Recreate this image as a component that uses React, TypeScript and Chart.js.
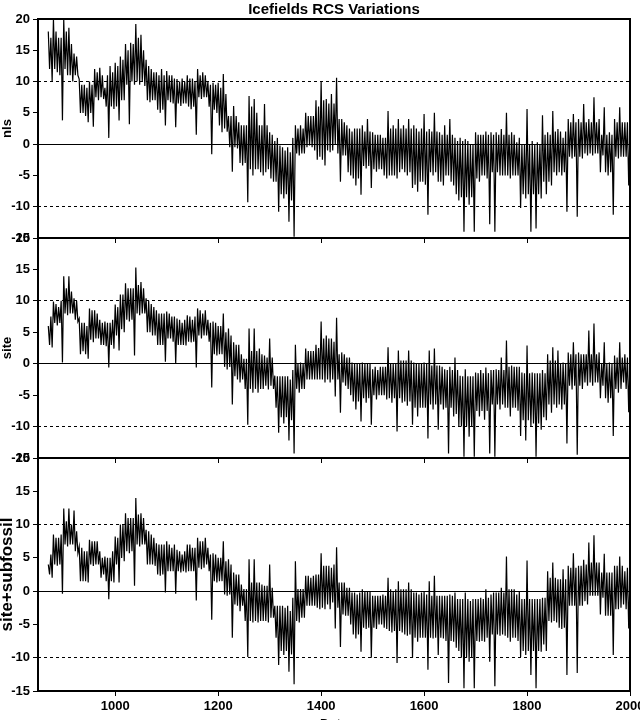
import { useEffect, useRef } from "react";
import { Chart, registerables } from "chart.js";

Chart.register(...registerables);

const CHART_TITLE = "Icefields RCS Variations";
const X_TITLE = "Date";
const FIRST_YEAR = 870;
const YEAR_STEP = 2.5;
const X_MIN = 850;
const X_MAX = 2000;
const X_TICKS = [1000, 1200, 1400, 1600, 1800, 2000];
const Y_MIN = -15;
const Y_MAX = 20;
const Y_TICKS = [-15, -10, -5, 0, 5, 10, 15, 20];
const PANEL_NAMES = ["nls", "site", "site+subfossil"];

// values every 2.5 years from 870 (peak / trough readings of the dense annual trace)
const NLS = [
  18, 12, 17, 10, 20, 12, 18, 11.5, 17, 11, 17, 3.8, 20, 12, 18, 11, 18.6, 11, 16, 10,
  14.5, 11, 14, 11, 10.4, 5, 9.5, 5, 9.5, 4.5, 9, 3.5, 10, 5, 9.5, 2.8, 12, 7.5, 11.5, 7,
  12.2, 7.5, 11, 7.2, 9, 6, 11, 1, 12.5, 6, 11.5, 5.6, 13, 6, 12.5, 3.8, 14, 7, 13.5, 7,
  16, 9.5, 15, 3.2, 16.2, 10, 16, 9.5, 19.2, 10, 17, 9.5, 17.5, 10, 15, 9.3, 13.5, 7, 12.5, 6.7,
  12, 7, 11.5, 7, 11.5, 5.5, 11, 5, 12, 5.5, 11, 3, 11.7, 7, 11, 6.7, 11, 6.5, 10.5, 2.7,
  10.4, 6.5, 10, 6.1, 10.5, 6.5, 10, 6.5, 11, 6, 10.5, 5.6, 10.5, 6, 10, 1.5, 12, 7.5, 11, 7.2,
  11.5, 7.5, 11, 7.5, 10, 6, 9.5, -1.6, 9.8, 5.5, 9.5, 5, 9.8, 3, 9, 1.9, 11.2, 2.5, 8, 2,
  4.5, -0.5, 4.5, -4.4, 6.1, -0.5, 4.5, -0.7, 3.5, -3, 3, -3.4, 3, -3, 3, -9.3, 7.7, -4, 6, -5,
  7.2, -4, 5, -4, 3, -4.5, 3, -5, 6.4, -4.5, 3, -4, 1.9, -5.5, 1.5, -6, 0.5, -6, 1, -10.8,
  -0.2, -8, -0.5, -8.7, -1, -8, -0.5, -12.4, -1.3, -9, 1, -14.8, 3, -1.5, 2.5, -1.8, 3, -1.5, 2.5, -1.5,
  5, -0.5, 4.5, -0.2, 4.5, -0.5, 4.5, -1, 7, -2.5, 6, -2, 10, -2.5, 7, -3.4, 7.2, -1, 6.5, -1.3,
  8, -1, 6.5, 0, 10.6, -1.5, 4, -6, 4, -1.8, 3.5, -1.8, 3, -4.5, 2.5, -5, 2, -5.5, 2.5, -6.6,
  2.5, -5.5, 2.5, -8.1, 3, -3.5, 2, -3.9, 4, -3.5, 2, -7, 1.9, -4, 1.5, -4.4, 1.5, -4, 1.5, -4,
  1, -5, 1, -5.5, 5.3, -5, 2.5, -5, 3, -5, 2.5, -5.5, 4, -4.5, 2.5, -4, 3, -4.5, 2.5, -5,
  4, -4.5, 2.5, -7, 3, -6.5, 2.5, -7.6, 2, -6, 2.5, -6, 4.8, -6.5, 2, -11.3, 2.4, -4.5, 2, -5,
  5, -4.5, 2, -6, 1.9, -6, 1.5, -6.6, 3, -5, 1.5, -5, 4, -6, 1.5, -6.6, 1, -8, 0.5, -9,
  1, -8.5, 0.5, -14, 0.8, -8.5, 0.5, -9.7, 0, -8.5, 0, -14, 1.9, -5.5, 1.5, -6, 1.5, -5, 1.5, -5,
  2, -5.5, 1.5, -12.8, 1.9, -4.5, 1.5, -14, 1.9, -4.5, 1.5, -5, 2.4, -5, 1.5, -5, 5, -5, 1.5, -5.5,
  1.9, -5, 1.5, -5, 0.3, -5, 1, -10.2, 0, -8, 0, -8.7, 5.6, -8, 0, -14, 0.5, -8, 0, -13.5,
  0.3, -8, 0, -8.7, 4.6, -6, 1.5, -8, 1.9, -6, 1.5, -6.6, 5.3, -4.5, 2, -5, 2.4, -4.5, 2, -5,
  1, -4.5, 2, -10.8, 4, -2, 3.5, -2.3, 4.8, -2, 3.5, -11.6, 4, -2, 3.5, -2.3, 6.4, -1.5, 3.5, -1.8,
  4, -1.5, 3.5, -1.8, 7.5, -1.5, 3.5, -1.5, 4, -4.5, 1.5, -1.8, 5.9, -4.5, 1.5, -5, 1.9, -4.5, 1.5, -11.3,
  4, -2, 3.5, -2.3, 5.9, -2, 3.5, -2, 3.5, -2, 3.5, -6.6, 2,
];

const SITE = [
  6, 3, 7.5, 2.6, 9.9, 6.5, 9.5, 6.1, 9, 6.5, 10, 0.2, 13.9, 8, 12, 7.7, 13.9, 8, 11.5, 8,
  10.4, 7, 10, 6.7, 7.2, 1.5, 6.5, 2, 6.5, 1.5, 6, 0.8, 8.8, 3.8, 8.5, 3.4, 8.5, 4, 8, 4,
  7, 3, 6.5, 3, 6.7, 2.8, 6.5, -0.6, 6.5, 3, 7, 2.4, 9.4, 4.5, 9, 2.1, 11, 5.5, 11, 5,
  12.8, 7, 12, 6.7, 12, 7, 12, 1.3, 15.3, 8, 12.5, 7.7, 13, 8, 12, 8, 10.4, 5, 10, 5,
  9.5, 4.5, 9, 4.5, 8.5, 3, 8, 3, 8, 3, 8, 0.3, 8.3, 4, 8, 4, 7.5, 3.5, 7.5, 0,
  7.2, 3, 7, 3, 6.5, 3, 7, 2.9, 7.7, 3.5, 7.5, 3.4, 7, 3.5, 7.5, -0.6, 8.8, 4.5, 8.5, 4,
  8, 4.5, 8.5, 4.5, 7, 3.5, 6.5, -3.8, 6.7, 1.5, 6.5, 1.3, 6, 1.5, 6, 1.5, 8, -0.5, 5, -0.9,
  5.6, -0.5, 4.5, -6.5, 3.4, -2, 3, -2.5, 3, -3, 1.5, -2.5, 0.8, -4, 0.8, -9.7, 5.6, -4, 2, -4.6,
  5.6, -4, 2, -4.6, 2.4, -4, 1.5, -4, 1.3, -3.5, 1, -4.1, 4, -3.5, 1, -4, -1.9, -7, -2, -11,
  -2, -8.5, -2, -9.5, -2, -8.5, -2, -12.2, -2.5, -9, -1, -14.3, 3, -4, 0, -4.6, 0.2, -4, 0, -4,
  2.4, -2.5, 2, -2.5, 2, -2.5, 2, -2.5, 3, -2.5, 2.5, -2.5, 6.7, -2.5, 4, -3, 4.5, -2.5, 4, -3,
  4, -2.5, 3.5, -5.2, 7.3, -2.5, 1.5, -7.8, 1.8, -3, 1.5, -3.5, 1, -4, 1, -5, 0.2, -6, 0, -7.3,
  0, -6, 0, -9.2, 0.2, -5.5, 0, -6.2, 0, -5.5, 0, -9.7, -0.9, -5, -0.5, -5.7, -1, -5, -0.5, -5,
  -0.5, -5, -0.5, -5.7, 2.6, -5.5, 0, -6.2, 0, -5.5, 0, -10.8, 2.1, -5.5, 0.5, -6.2, 0.5, -6, 0.5, -6.7,
  2.1, -6, 0.5, -9.7, 0.2, -7, 0, -8.4, 0, -7, 0, -7, 0.2, -7, 0, -11.9, 2.1, -6.5, -0.3, -7.3,
  2.4, -6.5, -0.3, -10.5, -0.3, -6.5, -0.5, -7.3, -0.9, -7, -1, -14.3, -0.5, -7, -1, -8.4, 1, -8, -1, -10,
  -1.9, -10, -2, -14.8, -0.9, -10, -2, -11.6, -2, -10, -2, -14.8, -1.4, -7.5, -1.5, -8.4, -1, -7.5, -1.5, -8.9,
  -0.6, -7.5, -1.5, -14.3, -1, -6.5, -1, -14.8, -0.9, -6.5, -1, -7.3, 1, -6.5, -1, -7, 3.7, -7, -0.5, -8.4,
  -0.3, -7, -0.5, -7, -0.5, -7.5, -0.5, -11.5, -1.4, -9, -1.5, -12.2, 2.9, -9, -1.5, -10, -1.4, -9.5, -1.5, -14.8,
  -1.5, -9.5, -1.5, -10.5, -1, -8.5, -1.5, -9, 1.5, -6.5, 0.5, -7.8, 2.6, -6.5, 0.5, -7, 2.1, -6.5, 0, -7.3,
  0.2, -6.5, 0, -12.7, 1.8, -3.5, 1.5, -4.1, 3.4, -3.5, 1.5, -14.5, 1.8, -3.5, 1.5, -4, 1.5, -3, 1.5, -3.5,
  5.3, -3, 1.5, -3.5, 6.4, -3, 1.5, -3, 1.8, -5.5, 0, -3.5, 3.4, -5.5, 0, -6.2, 0.2, -5.5, 0, -11.5,
  1.3, -4, 1, -4.6, 3.4, -4, 1, -3, 1.5, -4, 1, -7.7, 1,
];

const SITE_SUBFOSSIL = [
  4, 2.5, 5.5, 2, 8.5, 4, 8, 3.8, 8, 4, 8.5, -0.4, 12.4, 7, 10.5, 6.7, 12.4, 7, 10, 7,
  12.1, 6, 9, 5.7, 6.7, 1.5, 6.5, 1.5, 6, 1.5, 6, 1.3, 7.7, 4, 7.5, 3.8, 7.5, 4, 7.5, 4,
  6, 2, 5, 2.5, 5.2, 1.5, 5, -1.2, 5, 1.5, 6, 1.3, 8.2, 4, 8, 1.3, 10, 5, 10, 4.5,
  11.7, 6, 11, 5.7, 11, 6, 11, 0.8, 14, 7, 11.5, 6.7, 11.7, 7, 11, 7, 9.2, 4, 9, 4,
  8.5, 4, 8, 3.8, 7.2, 2.5, 7, 2.3, 7, 2.5, 7, -0.2, 7.5, 3, 7, 3, 6.5, 3, 7, -0.4,
  6.2, 3, 6, 2.8, 5.5, 3, 6, 2.8, 7, 3, 7, 3, 6.5, 3, 6.5, -1.4, 8, 3.5, 7.5, 3.3,
  7.5, 3.5, 8, 4, 6.5, 3, 5.5, -4.3, 5.7, 1.5, 5.5, 1.3, 5, 1.5, 5, 1.5, 7.5, -0.5, 4.5, -0.7,
  4.8, -0.5, 4, -7, 2.8, -2, 2.5, -2.2, 2.5, -3, 1, -2.2, 0.3, -4.5, 0.3, -9.9, 4.8, -4.5, 1.3, -4.7,
  4.8, -4.5, 1.3, -4.7, 1.3, -4.5, 1, -4.5, 0.8, -4.5, 0.8, -4.7, 4, -4, 0.5, -4, -2.2, -7, -2.2, -11.1,
  -2.2, -9, -2.2, -9.6, -2.5, -9, -2.2, -12.1, -3, -9.5, -1, -14, 4.5, -4.5, 0.3, -4.7, 0.3, -4, 0.3, -4,
  2.3, -2.2, 2.3, -2.2, 2, -2.2, 2.3, -2.2, 2.5, -2.5, 2.5, -2.7, 5.7, -2.5, 3.8, -2.7, 3.8, -2, 3.8, -2.7,
  3.5, -1.7, 4, -5.6, 6.6, -2.5, 1.3, -8.4, 1.3, -3.5, 1.3, -3.7, 0.5, -3.7, 0.5, -5, -0.2, -6.5, -0.2, -7.1,
  -0.5, -6.5, -0.2, -9.1, 0.3, -5.5, 0, -5.7, 0, -5.5, 0, -10, -0.7, -5.5, -0.7, -5.7, -0.7, -5, -0.7, -5,
  -0.5, -5.5, -0.7, -5.7, 2, -6, 0.3, -6.2, 0, -6, 0.3, -10.8, 1.5, -6, 0.3, -6.2, 0.3, -6.5, 0.3, -6.7,
  1.3, -6.5, 0.3, -10, -0.2, -7, -0.2, -7.6, -0.5, -7, -0.2, -7, 0, -7, -0.5, -11.8, 1.5, -7, -0.7, -7.1,
  2.3, -7, -0.7, -9.6, -0.7, -7, -0.7, -7.1, -0.7, -7.5, -0.7, -13.8, -0.5, -7.5, -0.7, -7.6, -0.2, -8.5, -1.2, -9,
  -1.2, -10, -1.2, -14.6, -0.2, -10, -1.2, -10.6, -1.5, -10, -1.2, -14.6, -1.2, -7.5, -1.2, -7.6, -1, -7.5, -1.2, -7.6,
  0.3, -7, -1, -10.6, -0.5, -6.5, -0.2, -14.3, -0.2, -6.5, -0.2, -6.7, 0.5, -6.5, -0.2, -6.7, 5.2, -7, 0.3, -7.6,
  0.3, -7, 0.3, -7, -0.5, -7.5, 0, -9.9, -1.2, -9, -1.2, -9.6, 4.6, -9, -1.2, -12.6, -1.2, -9, -1.2, -14.6,
  -1.2, -9, -1.2, -9.1, -1, -8, -1, -9, 3, -4.5, 2, -4.7, 4.3, -4.5, 2, -4.7, 1.8, -5.5, 1.8, -5.7,
  3.3, -5.5, 1.8, -12.6, 3.8, -2.2, 3.5, -2.2, 5.7, -2.2, 3.5, -12.3, 3.8, -2.2, 3.8, -2.2, 4.7, -1.5, 4, -2,
  7.3, -0.7, 4.3, -0.7, 8.4, -0.7, 4.3, -0.7, 4.3, -3.5, 2.8, -1, 5.6, -3.7, 2.8, -3.7, 2.8, -3.7, 2.8, -9.6,
  3.8, -2.7, 3.8, -2.7, 5.2, -2.5, 3.8, -2, 3, -2.7, 3.5, -5.6, 2,
];

const SERIES = [NLS, SITE, SITE_SUBFOSSIL];

const FONT_FAMILY = "'Liberation Sans', Arial, sans-serif";

type Layout = {
  canvasHeight: number;
  padTop: number;
  padBottom: number;
  xHeight: number;
  showTitle: boolean;
  showXLabels: boolean;
  yTitleSize: number;
  yTitleOffset: number;
};

const LAYOUTS: Layout[] = [
  { canvasHeight: 720, padTop: 19, padBottom: 720 - 238 - 5, xHeight: 5, showTitle: true, showXLabels: false, yTitleSize: 13, yTitleOffset: 0 },
  { canvasHeight: 720, padTop: 238, padBottom: 720 - 458 - 5, xHeight: 5, showTitle: false, showXLabels: false, yTitleSize: 13, yTitleOffset: 0 },
  { canvasHeight: 733, padTop: 458, padBottom: 733 - 691 - 41, xHeight: 41, showTitle: false, showXLabels: true, yTitleSize: 17, yTitleOffset: -3 },
];

const framePlugin = {
  id: "panelFrame",
  afterDraw(chart: any) {
    const { ctx, chartArea: a } = chart;
    ctx.save();
    ctx.strokeStyle = "#000";
    ctx.lineWidth = 2;
    ctx.strokeRect(a.left, a.top, a.right - a.left, a.bottom - a.top);
    ctx.restore();
  },
};

// chart title centred over the plot area (as in the reference)
const topTitlePlugin = {
  id: "topTitle",
  afterDraw(chart: any) {
    const { ctx, chartArea: a } = chart;
    ctx.save();
    ctx.fillStyle = "#000";
    ctx.font = `bold 15px ${FONT_FAMILY}`;
    ctx.textAlign = "center";
    ctx.textBaseline = "middle";
    ctx.fillText(CHART_TITLE, (a.left + a.right) / 2, 10);
    ctx.restore();
  },
};

function buildChart(canvas: HTMLCanvasElement, idx: number) {
  const lay = LAYOUTS[idx];
  const values = SERIES[idx];
  const points = values.map((v, i) => ({ x: FIRST_YEAR + i * YEAR_STEP, y: v }));
  const plugins: any[] = [framePlugin];
  if (lay.showTitle) plugins.push(topTitlePlugin);
  return new Chart(canvas, {
    type: "line",
    data: {
      datasets: [
        {
          data: points,
          borderColor: "#000",
          borderWidth: 1.2,
          pointRadius: 0,
          tension: 0,
          fill: false,
        },
      ],
    },
    options: {
      animation: false,
      responsive: false,
      maintainAspectRatio: false,
      events: [],
      layout: { padding: { top: lay.padTop, bottom: lay.padBottom, left: 0, right: 10 } },
      plugins: {
        legend: { display: false },
        tooltip: { enabled: false },
        title: { display: false },
      },
      scales: {
        x: {
          type: "linear",
          min: X_MIN,
          max: X_MAX,
          afterBuildTicks: (s: any) => {
            s.ticks = X_TICKS.map((v) => ({ value: v }));
          },
          afterFit: (s: any) => {
            s.height = lay.xHeight;
            s.paddingLeft = 0;
            s.paddingRight = 0;
          },
          ticks: {
            display: lay.showXLabels,
            autoSkip: false,
            maxRotation: 0,
            padding: 3,
            color: "#000",
            font: { family: FONT_FAMILY, size: 13, weight: "bold" },
            callback: (v: any) => String(v),
          },
          grid: {
            drawOnChartArea: false,
            drawTicks: true,
            tickLength: 5,
            tickColor: "#000",
            tickWidth: 1,
          },
          border: { display: false },
          title: {
            display: lay.showXLabels,
            text: X_TITLE,
            color: "#000",
            padding: 0,
            font: { family: FONT_FAMILY, size: 13, weight: "bold" },
          },
        },
        y: {
          type: "linear",
          min: Y_MIN,
          max: Y_MAX,
          afterBuildTicks: (s: any) => {
            s.ticks = Y_TICKS.map((v) => ({ value: v }));
          },
          afterFit: (s: any) => {
            s.width = 38;
            s.paddingTop = 0;
            s.paddingBottom = 0;
          },
          ticks: {
            autoSkip: false,
            padding: 3,
            color: "#000",
            font: { family: FONT_FAMILY, size: 13, weight: "bold" },
          },
          grid: {
            drawOnChartArea: true,
            drawTicks: true,
            tickLength: 5,
            tickColor: "#000",
            tickWidth: 1,
            lineWidth: 1,
            color: (c: any) =>
              c.tick && (c.tick.value === 0 || Math.abs(c.tick.value) === 10) ? "#000" : "rgba(0,0,0,0)",
          },
          border: {
            display: false,
            dash: (c: any) => (c.tick && Math.abs(c.tick.value) === 10 ? [3, 3] : []),
          },
          title: {
            display: true,
            text: PANEL_NAMES[idx],
            color: "#000",
            padding: { top: lay.yTitleOffset, bottom: 0 },
            font: { family: FONT_FAMILY, size: lay.yTitleSize, weight: "bold" },
          },
        },
      },
    } as any,
    plugins,
  });
}

export default function App() {
  const r0 = useRef<HTMLCanvasElement>(null);
  const r1 = useRef<HTMLCanvasElement>(null);
  const r2 = useRef<HTMLCanvasElement>(null);

  useEffect(() => {
    const refs = [r0, r1, r2];
    const charts = refs.map((r, i) => buildChart(r.current as HTMLCanvasElement, i));
    return () => charts.forEach((c) => c.destroy());
  }, []);

  const canvasStyle = (h: number): React.CSSProperties => ({
    position: "absolute",
    left: 0,
    top: 0,
    width: 640,
    height: h,
  });

  return (
    <div
      style={{
        position: "fixed",
        left: 0,
        top: 0,
        width: 640,
        height: 720,
        overflow: "hidden",
        background: "#fff",
      }}
    >
      <canvas ref={r0} width={640} height={LAYOUTS[0].canvasHeight} style={canvasStyle(LAYOUTS[0].canvasHeight)} />
      <canvas ref={r1} width={640} height={LAYOUTS[1].canvasHeight} style={canvasStyle(LAYOUTS[1].canvasHeight)} />
      <canvas ref={r2} width={640} height={LAYOUTS[2].canvasHeight} style={canvasStyle(LAYOUTS[2].canvasHeight)} />
    </div>
  );
}
